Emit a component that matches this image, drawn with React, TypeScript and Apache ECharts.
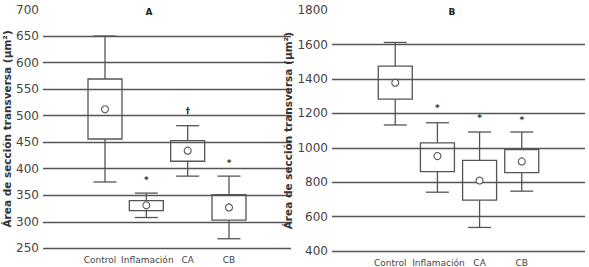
import React, { useEffect, useRef } from "react";
import * as echarts from "echarts";

const categories = ["Control", "Inflamación", "CA", "CB"];

// Panel A
const aLow = [375, 308, 386, 268];
const aQ1 = [456, 321, 414, 303];
const aQ3 = [569, 340, 453, 351];
const aHigh = [650, 354, 481, 386];
const aMean = [512, 331, 434, 327];
const aMarkValue = [null, 379, 509, 411];
const aMarkText = ["", "*", "†", "*"];

// Panel B
const bLow = [1133, 742, 537, 748];
const bQ1 = [1283, 862, 696, 856];
const bQ3 = [1475, 1029, 927, 990];
const bHigh = [1613, 1146, 1092, 1092];
const bMean = [1379, 952, 810, 921];
const bMarkValue = [null, 1229, 1173, 1160];
const bMarkText = ["", "*", "*", "*"];

const yTitle = "Área de sección transversa (µm²)";
const LINE = "#555";
const TEXT = "#444";
const FONT = "DejaVu Sans, Verdana, sans-serif";

function makeRender(markText: string[]) {
  return (params: any, api: any) => {
    const i = params.dataIndex;
    const xi = api.value(0);
    const low = api.coord([xi, api.value(1)]);
    const q1 = api.coord([xi, api.value(2)]);
    const q3 = api.coord([xi, api.value(3)]);
    const high = api.coord([xi, api.value(4)]);
    const mean = api.coord([xi, api.value(5)]);
    const mv = api.value(6);
    const cx = low[0];
    const boxW = 34;
    const capW = 23;
    const ls = { stroke: LINE, lineWidth: 1.3 };
    const children: any[] = [
      { type: "line", shape: { x1: cx, y1: high[1], x2: cx, y2: q3[1] }, style: ls },
      { type: "line", shape: { x1: cx, y1: q1[1], x2: cx, y2: low[1] }, style: ls },
      { type: "line", shape: { x1: cx - capW / 2, y1: high[1], x2: cx + capW / 2, y2: high[1] }, style: ls },
      { type: "line", shape: { x1: cx - capW / 2, y1: low[1], x2: cx + capW / 2, y2: low[1] }, style: ls },
      {
        type: "rect",
        shape: { x: cx - boxW / 2, y: q3[1], width: boxW, height: q1[1] - q3[1] },
        style: { fill: "none", stroke: LINE, lineWidth: 1.3 },
      },
      {
        type: "circle",
        shape: { cx: cx, cy: mean[1], r: 3.5 },
        style: { fill: "#fff", stroke: LINE, lineWidth: 1.1 },
      },
    ];
    if (mv != null && !isNaN(mv) && markText[i]) {
      const m = api.coord([xi, mv]);
      children.push({
        type: "text",
        x: cx,
        y: m[1],
        style: {
          text: markText[i],
          fill: "#333",
          font: "bold 9px " + FONT,
          align: "center",
          verticalAlign: "middle",
        },
      });
    }
    return { type: "group", children };
  };
}

function buildData(low: number[], q1: number[], q3: number[], high: number[], mean: number[], mark: (number | null)[]) {
  return categories.map((_, i) => [i + 1, low[i], q1[i], q3[i], high[i], mean[i], mark[i] == null ? NaN : mark[i]]);
}

const axisCategories: any[] = [
  "",
  { value: categories[0], textStyle: { padding: [0, 10, 4, 0] } },
  { value: categories[1], textStyle: { padding: [0, 0, 0, 2] } },
  categories[2],
  categories[3],
  "",
];

export default function App() {
  const ref = useRef<HTMLDivElement>(null);
  useEffect(() => {
    if (!ref.current) return;
    const chart = echarts.init(ref.current, null, { renderer: "svg" });
    const yAxisCommon = {
      type: "value",
      nameLocation: "middle",
      nameRotate: 90,
      nameTextStyle: { fontFamily: FONT, fontWeight: "bold", fontSize: 10.5, color: "#333" },
      axisLine: { show: false },
      axisTick: { show: false },
      axisLabel: { fontFamily: FONT, fontSize: 12, color: TEXT, margin: 4, formatter: (v: number) => String(v) },
      splitLine: { show: true, showMaxLine: false, lineStyle: { color: LINE, width: 1.3 } },
    };
    const xAxisCommon = {
      type: "category",
      data: axisCategories,
      boundaryGap: true,
      axisLine: { show: false },
      axisTick: { show: false },
      axisLabel: { fontFamily: FONT, fontSize: 9, color: TEXT, margin: 7, interval: 0 },
    };
    chart.setOption({
      animation: false,
      backgroundColor: "#fff",
      grid: [
        { left: 39, width: 252, top: 9.5, height: 238.8 },
        { left: 332, width: 253, top: 10.3, height: 242.7 },
      ],
      xAxis: [
        { ...xAxisCommon, gridIndex: 0 },
        { ...xAxisCommon, gridIndex: 1 },
      ],
      yAxis: [
        { ...yAxisCommon, gridIndex: 0, min: 250, max: 700, interval: 50, name: yTitle, nameGap: 31 },
        { ...yAxisCommon, gridIndex: 1, min: 400, max: 1800, interval: 200, name: yTitle, nameGap: 35 },
      ],
      graphic: [
        { type: "text", x: 149, y: 12, style: { text: "A", font: "bold 9px " + FONT, fill: "#222", align: "center", verticalAlign: "middle" } },
        { type: "text", x: 452, y: 12, style: { text: "B", font: "bold 9px " + FONT, fill: "#222", align: "center", verticalAlign: "middle" } },
      ],
      series: [
        {
          type: "custom",
          xAxisIndex: 0,
          yAxisIndex: 0,
          renderItem: makeRender(aMarkText),
          encode: { x: 0, y: [1, 2, 3, 4, 5] },
          data: buildData(aLow, aQ1, aQ3, aHigh, aMean, aMarkValue),
        },
        {
          type: "custom",
          xAxisIndex: 1,
          yAxisIndex: 1,
          renderItem: makeRender(bMarkText),
          encode: { x: 0, y: [1, 2, 3, 4, 5] },
          data: buildData(bLow, bQ1, bQ3, bHigh, bMean, bMarkValue),
        },
      ],
    });
    return () => chart.dispose();
  }, []);
  return <div ref={ref} style={{ width: 589, height: 267, position: "absolute", left: 0, top: 0 }} />;
}
